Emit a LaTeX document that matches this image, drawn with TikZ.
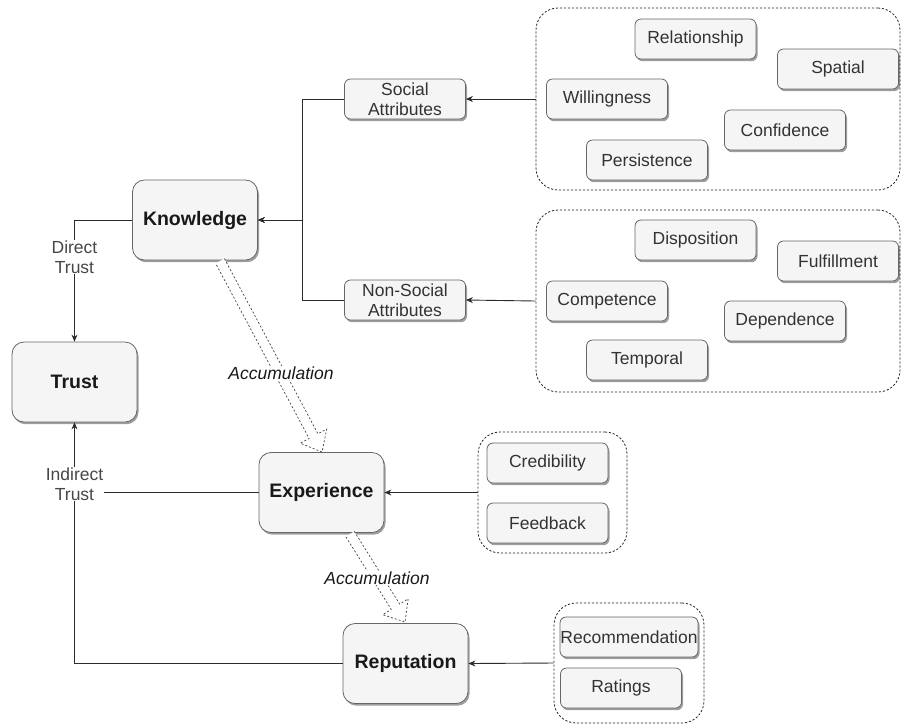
\documentclass[tikz,border=0pt]{standalone}
\usepackage{fontspec}
\setmainfont{Liberation Sans}
\usetikzlibrary{calc,arrows.meta,shadows}

\definecolor{boxfill}{HTML}{F5F5F5}
\definecolor{boxline}{HTML}{666666}
\definecolor{boxtext}{HTML}{333333}
\definecolor{edgecol}{HTML}{2B2B2B}
\definecolor{labtext}{HTML}{474747}
\definecolor{accline}{HTML}{444444}

\tikzset{
  shadowed/.style={draw=boxline, fill=boxfill, line width=0.8pt,
    drop shadow={shadow xshift=1.5pt, shadow yshift=-2.2pt, opacity=0.38, fill=black}},
  bigbox/.style={shadowed, rounded corners=12pt, minimum width=125pt, minimum height=80pt,
    inner sep=0pt, font=\fontsize{19.5pt}{22pt}\selectfont\bfseries, text=black!90},
  smallbox/.style={shadowed, rounded corners=6pt, minimum width=121pt, minimum height=40pt,
    inner sep=0pt, align=center, font=\fontsize{17.5pt}{20pt}\selectfont, text=boxtext},
  group/.style={draw=black!85, dash pattern=on 2.2pt off 1.8pt, line width=0.8pt,
    rounded corners=22pt, inner sep=0pt},
  edge/.style={draw=edgecol, line width=0.9pt},
  arrowed/.style={edge, -{Stealth[length=7pt, width=6pt]}},
  lab/.style={fill=white, inner sep=1pt, align=center, text=labtext,
    font=\fontsize{17.5pt}{20pt}\selectfont},
  acclab/.style={fill=white, inner sep=1pt, text=black!90,
    font=\fontsize{17.5pt}{20pt}\selectfont\itshape},
  acc/.style={draw=accline, fill=white, line width=0.7pt, dash pattern=on 2pt off 2pt},
}

% hollow block arrow from #1 to #2, drawn with dashed outline
\newcommand{\blockarrow}[3]{%
  \coordinate (#3h) at ($(#2)!18pt!(#1)$);
  \draw[acc] ($(#1)!5pt!90:(#2)$) -- ($(#3h)!5pt!90:(#2)$) -- ($(#3h)!15pt!90:(#2)$)
    -- (#2) -- ($(#3h)!15pt!-90:(#2)$) -- ($(#3h)!5pt!-90:(#2)$) -- ($(#1)!5pt!-90:(#2)$);
}

\begin{document}
\begin{tikzpicture}[x=1pt, y=-1pt]
\useasboundingbox (0,0) rectangle (901,724);

% attribute groups (dashed containers)
\node[group, minimum width=364pt, minimum height=182pt] (grpS) at (718,99) {};
\node[group, minimum width=364pt, minimum height=182pt] (grpN) at (718,301) {};
\node[group, minimum width=149pt, minimum height=121pt] (grpE) at (552.5,492.5) {};
\node[group, minimum width=150pt, minimum height=120pt] (grpR) at (629,663) {};

% main concepts
\node[bigbox] (know)  at (195,220)   {Knowledge};
\node[bigbox] (trust) at (74.5,382)  {Trust};
\node[bigbox] (exp)   at (321.5,492.5) {Experience};
\node[bigbox] (rep)   at (405.5,663.5) {Reputation};

% attribute categories
\node[smallbox] (soc)  at (405,99)  {Social\\Attributes};
\node[smallbox] (nsoc) at (405,300) {Non-Social\\Attributes};

% social attributes
\node[smallbox] (rel) at (695.5,39) {Relationship};
\node[smallbox] (spa) at (838,69)   {Spatial};
\node[smallbox] (wil) at (607,99)   {Willingness};
\node[smallbox] (con) at (785,130)  {Confidence};
\node[smallbox] (per) at (647,160)  {Persistence};

% non-social attributes
\node[smallbox] (dis) at (695.5,240) {Disposition};
\node[smallbox] (ful) at (838,261)   {Fulfillment};
\node[smallbox] (com) at (607,301)   {Competence};
\node[smallbox] (dep) at (785,321)   {Dependence};
\node[smallbox] (tem) at (647,360)   {Temporal};

% experience sources
\node[smallbox] (cre) at (547.5,463) {Credibility};
\node[smallbox] (fee) at (547.5,523) {Feedback};

% reputation sources
\node[smallbox, minimum width=138pt] (recm) at (629,637) {Recommendation};
\node[smallbox] (rat) at (621,688) {Ratings};

% connectors into the categories and concepts
\draw[arrowed] (grpS.west) -- (soc.east);
\draw[arrowed] (grpN.west) -- (nsoc.east);
\draw[arrowed] (grpE.west) -- (exp.east);
\draw[arrowed] (grpR.west) -- (rep.east);

\coordinate (jn) at (302,220);
\draw[arrowed] (soc.west) -| (jn) -- (know.east);
\draw[arrowed] (nsoc.west) -| (jn) -- (know.east);

% direct trust path
\draw[arrowed] (know.west) -| (trust.north);
\node[lab] (dt) at (74.5,257) {Direct\\Trust};

% indirect trust path
\draw[arrowed] (rep.west) -| (trust.south);
\node[lab] (it) at (74.5,484) {Indirect\\Trust};
\draw[edge] (exp.west) -- (exp.west -| it.east);

% accumulation arrows
\coordinate (a1s) at (220,261);
\coordinate (a1e) at (322,452);
\blockarrow{a1s}{a1e}{a1}
\node[acclab] (acc1) at (281,373) {Accumulation};

\coordinate (a2s) at (350,534);
\coordinate (a2e) at (405,622);
\blockarrow{a2s}{a2e}{a2}
\node[acclab] (acc2) at (377,578) {Accumulation};
\end{tikzpicture}
\end{document}
